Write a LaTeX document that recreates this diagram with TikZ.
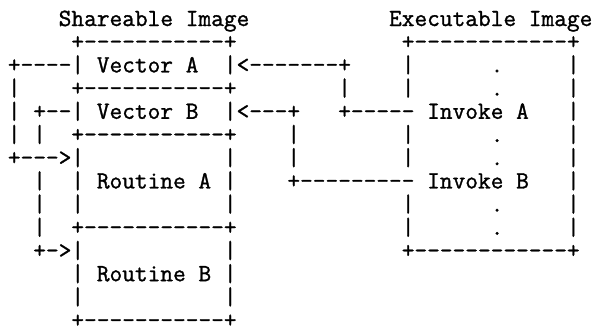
\documentclass[tikz,border=0pt]{standalone}
\usepackage{fontspec}
\setmonofont{Latin Modern Mono}[FakeBold=1.2]
\usepackage{tikz}

\begin{document}
\begin{tikzpicture}[
    asciirow/.style={
        anchor=base west,
        inner sep=0pt,
        font=\ttfamily\fontsize{17.55}{20}\selectfont
    }
]
\useasboundingbox (0,0) rectangle (14.875,8.3);

% Titles and box tops
\node[asciirow] (titles) at (0.19, 7.65) {~~~~Shareable~Image~~~~~~~~~~~Executable~Image};
\node[asciirow] (boxtops) at (0.19, 7.07) {~~~~~+-----------+~~~~~~~~~~~~~+------------+};

% Transfer vectors
\node[asciirow] (vectorA) at (0.19, 6.49) {+----|~Vector~A~~|<-------+~~~~|~~~~~~.~~~~~|};
\node[asciirow] (sepA) at (0.19, 5.91) {|~~~~+-----------+~~~~~~~~|~~~~|~~~~~~.~~~~~|};
\node[asciirow] (vectorB) at (0.19, 5.33) {|~+--|~Vector~B~~|<---+~~~+-----~Invoke~A~~~|};
\node[asciirow] (sepB) at (0.19, 4.75) {|~|~~+-----------+~~~~|~~~~~~~~|~~~~~~.~~~~~|};

% Routine A
\node[asciirow] (entryA) at (0.19, 4.17) {+--->|~~~~~~~~~~~|~~~~|~~~~~~~~|~~~~~~.~~~~~|};
\node[asciirow] (routineA) at (0.19, 3.59) {~~|~~|~Routine~A~|~~~~+---------~Invoke~B~~~|};
\node[asciirow] (gapA) at (0.19, 3.01) {~~|~~|~~~~~~~~~~~|~~~~~~~~~~~~~|~~~~~~.~~~~~|};
\node[asciirow] (sepC) at (0.19, 2.43) {~~|~~+-----------+~~~~~~~~~~~~~|~~~~~~.~~~~~|};

% Routine B
\node[asciirow] (entryB) at (0.19, 1.85) {~~+->|~~~~~~~~~~~|~~~~~~~~~~~~~+------------+};
\node[asciirow] (routineB) at (0.19, 1.27) {~~~~~|~Routine~B~|};
\node[asciirow] (gapB) at (0.19, 0.69) {~~~~~|~~~~~~~~~~~|};
\node[asciirow] (bottom) at (0.19, 0.11) {~~~~~+-----------+};

\end{tikzpicture}
\end{document}
